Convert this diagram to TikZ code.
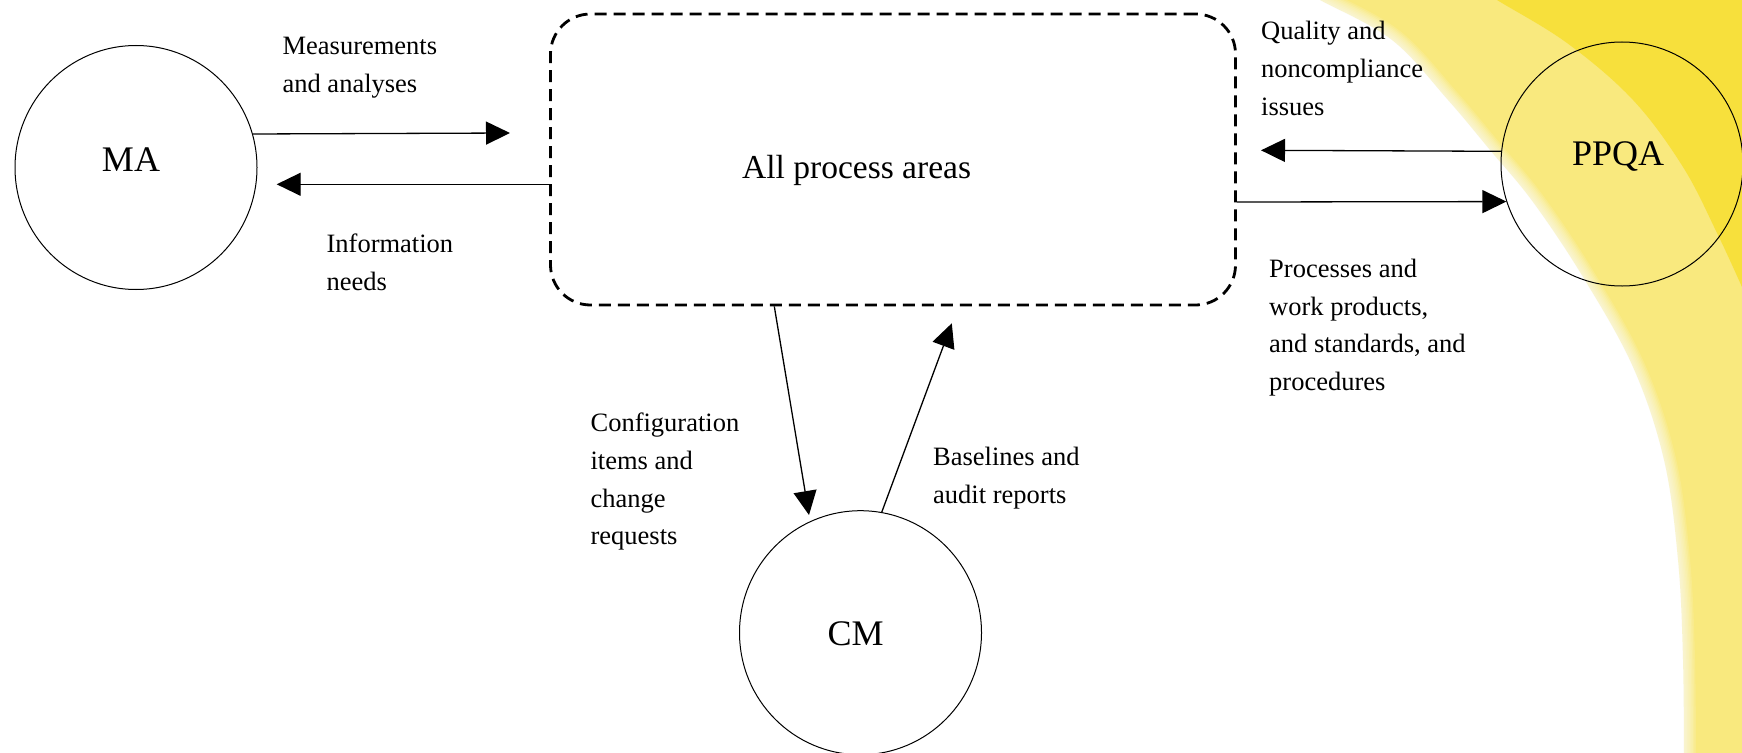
\documentclass[tikz,border=0pt]{standalone}
\usepackage{fontspec}
\setmainfont{Liberation Serif}
\usetikzlibrary{arrows.meta,shapes.geometric}
\definecolor{bandlight}{HTML}{F9E97E}
\definecolor{banddark}{HTML}{F7E03C}
% multi-line label whose reference point is the first baseline
\newcommand{\lblstack}[1]{\begin{tabular}[t]{@{}l@{}}#1\end{tabular}}
\begin{document}
\begin{tikzpicture}[x=1pt,y=-1pt,
  area/.style={ellipse, draw, line width=1pt, minimum width=242pt,
    minimum height=244pt, inner sep=0pt},
  areaname/.style={anchor=base, inner sep=0pt, font=\fontsize{36}{40}\selectfont},
  flowtext/.style={anchor=base west, inner sep=0pt, font=\fontsize{26.5}{37.7}\selectfont},
  flow/.style={line width=1.3pt, -{Triangle[length=24pt,width=23pt]}}]
\useasboundingbox (0,0) rectangle (1742,752);

% yellow bands in the right-hand corner
\def\inneredge{plot[smooth, tension=0.6] coordinates {
      (1300,-12) (1320,0) (1392,40) (1448,100) (1490,150) (1533,202)
      (1583,277) (1633,367) (1664,460) (1678,560) (1683,660) (1684,770)}}
\begin{scope}
  \clip (0,0) rectangle (1742,752);
  \fill[bandlight] \inneredge -- (1760,770) -- (1760,-12) -- cycle;
  \fill[banddark] plot[smooth, tension=0.6] coordinates {
      (1480,-12) (1497,0) (1567,43) (1633,100) (1683,167) (1717,233)
      (1742,287) (1752,310)}
    -- (1760,310) -- (1760,-12) -- cycle;
  % soft fade of the inner edge of the light band
  \foreach \w in {3,6,...,24}
    \draw[white, opacity=0.12, line width=\w pt] \inneredge;
\end{scope}

% process areas
\node[area] (ma) at (136,167.5) {};
\node[areaname] (ma label) at (131,171.7) {MA};
\node[area] (ppqa) at (1622,164) {};
\node[areaname] (ppqa label) at (1618,165.7) {PPQA};
\node[area] (cm) at (860.5,632.7) {};
\node[areaname] (cm label) at (855.7,645.7) {CM};

\node[draw, rounded corners=40pt, line width=2.8pt, dash pattern=on 12pt off 7pt,
  minimum width=685pt, minimum height=291pt, inner sep=0pt] (all) at (893,159.5) {};
\node[anchor=base, inner sep=0pt, font=\fontsize{33.5}{38}\selectfont]
  (all label) at (856.6,178) {All process areas};

% free ends of the arrows
\coordinate (ma in)   at (510,133);
\coordinate (ma out)  at (276.7,184.3);
\coordinate (pp out)  at (1261,150.3);
\coordinate (cm in)   at (809,515);
\coordinate (cm out)  at (951.8,323.3);

% flows
\draw[flow] (ma.16) -- (ma in);
\draw[flow] ([yshift=-24.8pt]all.west) -- (ma out);
\draw[flow] (ppqa.174) -- (pp out);
\draw[flow] ([yshift=-42.5pt]all.east) -- (ppqa.198);
\draw[flow] ([xshift=-118.7pt]all.south) -- (cm in);
\draw[flow] (cm.80) -- (cm out);

% flow labels
\node[flowtext] (t1) at (282.4,55) {\lblstack{Measurements\\ and analyses}};
\node[flowtext] (t2) at (326.4,252.3) {\lblstack{Information\\ needs}};
\node[flowtext] (t3) at (1261,40) {\lblstack{Quality and\\ noncompliance\\ issues}};
\node[flowtext] (t4) at (1269,277.3) {\lblstack{Processes and\\ work products,\\ and standards, and\\ procedures}};
\node[flowtext] (t5) at (590.4,431.7) {\lblstack{Configuration\\ items and\\ change\\ requests}};
\node[flowtext] (t6) at (933,465.7) {\lblstack{Baselines and\\ audit reports}};
\end{tikzpicture}
\end{document}
